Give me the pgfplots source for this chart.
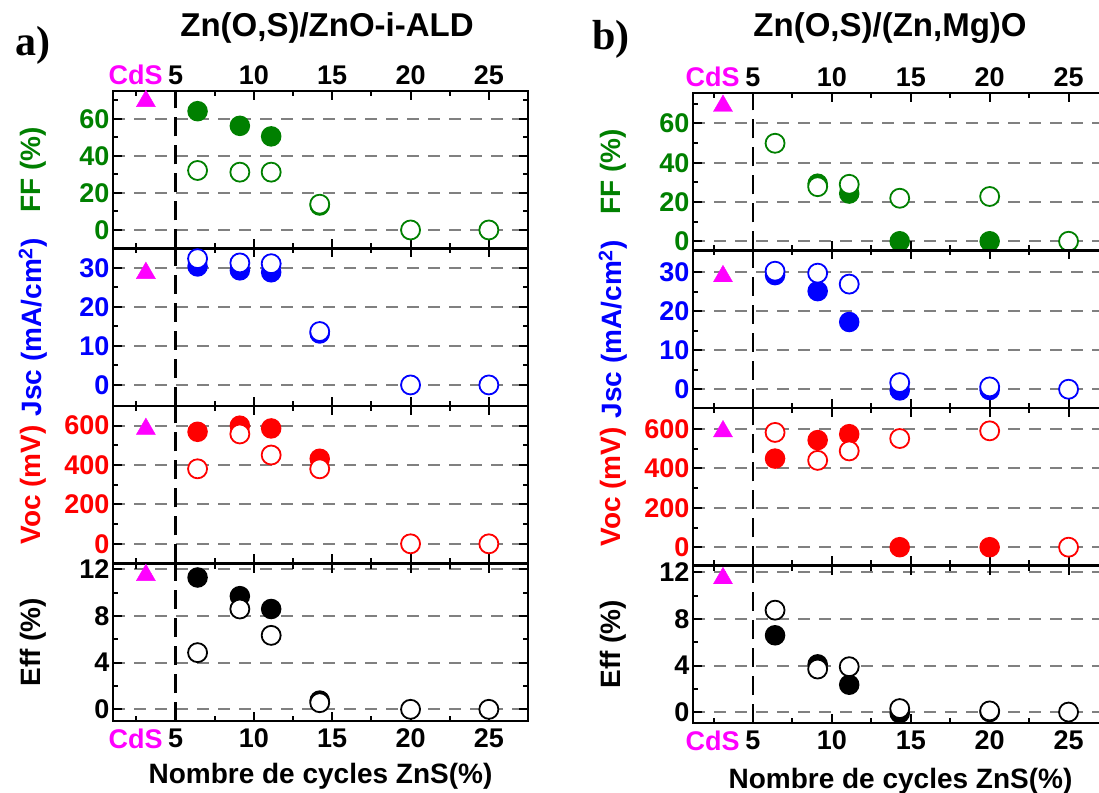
\documentclass[border=0pt]{standalone}
\usepackage{fontspec}
\setmainfont{Liberation Sans}
\newfontfamily\serifb{Liberation Serif}
\usepackage{pgfplots}
\pgfplotsset{compat=1.18}

\definecolor{cgreen}{RGB}{0,128,0}
\definecolor{cblue}{RGB}{0,0,255}
\definecolor{cred}{RGB}{255,0,0}
\definecolor{cmag}{RGB}{255,0,255}
\definecolor{cgrid}{RGB}{128,128,128}

\pgfplotsset{
  panel/.style={
    scale only axis, width=415pt, height=157.5pt,
    axis line style={line width=2.5pt},
    every tick/.style={black, line width=2pt},
    major tick length=9pt, minor tick length=5pt,
    tick align=inside,
    xtick={5,10,15,20,25}, minor xtick={2.5,7.5,12.5,17.5,22.5},
    xticklabels={},
    ymajorgrids,
    major grid style={cgrid, line width=2pt, dash pattern=on 12pt off 9pt},
    clip=false,
    tick label style={font=\fontsize{27}{30}\selectfont\bfseries},
    ylabel style={at={(axis description cs:-0.193,0.5)}, anchor=center,
      font=\fontsize{28}{30}\selectfont\bfseries},
    xlabel style={at={(axis description cs:0.5,0)}, anchor=base, yshift=-62pt,
      font=\fontsize{28}{30}\selectfont\bfseries},
    extra x tick style={grid=none, major tick length=0pt},
  },
  toplab/.style={xticklabel pos=upper, xticklabels={5,10,15,20,25},
    extra x ticks={2.45}, extra x tick labels={\textcolor{cmag}{CdS}},
    xticklabel style={yshift=3pt}},
  botlab/.style={xticklabel pos=lower, xticklabels={5,10,15,20,25},
    extra x ticks={2.45}, extra x tick labels={\textcolor{cmag}{CdS}},
    xticklabel style={yshift=-4pt}, xlabel={Nombre de cycles ZnS(\%)}},
  ffax/.style={ytick={0,20,40,60}, yticklabels={0,20,40,60}, minor ytick={10,30,50,70},
    yticklabel style={color=cgreen}, ylabel={FF (\%)}, ylabel style={color=cgreen}},
  jscax/.style={ytick={0,10,20,30}, yticklabels={0,10,20,30}, minor ytick={5,15,25},
    yticklabel style={color=cblue}, ylabel={Jsc (mA/cm\textsuperscript{2})}, ylabel style={color=cblue}},
  vocax/.style={ytick={0,200,400,600}, yticklabels={0,200,400,600}, minor ytick={100,300,500},
    yticklabel style={color=cred}, ylabel={Voc (mV)}, ylabel style={color=cred}},
  effax/.style={ytick={0,4,8,12}, yticklabels={0,4,8,12}, minor ytick={2,6,10},
    yticklabel style={color=black}, ylabel={Eff (\%)}, ylabel style={color=black}},
  tri/.style={only marks, mark=triangle*, mark size=11pt, color=cmag},
  fil/.style={only marks, mark=*, mark size=9.5pt, color=#1, mark options={line width=1.5pt, fill=#1}},
  opn/.style={only marks, mark=*, mark size=9.5pt, color=#1, mark options={line width=1.8pt, fill=white}},
}
\tikzset{vline/.style={black, line width=2.3pt, dash pattern=on 19pt off 9pt}}

\begin{document}
\begin{tikzpicture}[x=1pt,y=1pt]
% ================= LEFT COLUMN =================
\begin{axis}[panel, toplab, ffax, at={(113pt,543.5pt)}, xmin=1, xmax=27.5, ymin=-10, ymax=75]
\draw[vline] (axis cs:5,-10) -- (axis cs:5,75);
\addplot[tri] coordinates {(3.1,69.5)};
\addplot[fil=cgreen] coordinates {(6.4,64.1) (9.1,56.2) (11.1,50.5) (14.2,13.2)};
\addplot[opn=cgreen] coordinates {(6.4,32.1) (9.1,31.2) (11.1,31.2) (14.2,13.9) (20,0) (25,0)};
\end{axis}
\begin{axis}[panel, jscax, at={(113pt,386pt)}, xmin=1, xmax=27.5, ymin=-5.4, ymax=35]
\draw[vline] (axis cs:5,-5.4) -- (axis cs:5,35);
\addplot[tri] coordinates {(3.1,28.7)};
\addplot[fil=cblue] coordinates {(6.4,30.4) (9.1,29.4) (11.1,28.9) (14.2,13.2)};
\addplot[opn=cblue] coordinates {(6.4,32.4) (9.1,31.3) (11.1,31.1) (14.2,13.7) (20,0) (25,0)};
\end{axis}
\begin{axis}[panel, vocax, at={(113pt,228.5pt)}, xmin=1, xmax=27.5, ymin=-100, ymax=700]
\draw[vline] (axis cs:5,-100) -- (axis cs:5,700);
\addplot[tri] coordinates {(3.1,583)};
\addplot[fil=cred] coordinates {(6.4,569) (9.1,600) (11.1,586) (14.2,432)};
\addplot[opn=cred] coordinates {(6.4,381) (9.1,558) (11.1,451) (14.2,381) (20,0) (25,0)};
\end{axis}
\begin{axis}[panel, botlab, effax, at={(113pt,71pt)}, xmin=1, xmax=27.5, ymin=-1, ymax=12.5]
\draw[vline] (axis cs:5,-1) -- (axis cs:5,12.5);
\addplot[tri] coordinates {(3.1,11.5)};
\addplot[fil=black] coordinates {(6.4,11.3) (9.1,9.7) (11.1,8.6) (14.2,0.75)};
\addplot[opn=black] coordinates {(6.4,4.86) (9.1,8.6) (11.1,6.34) (14.2,0.57) (20,0) (25,0)};
\end{axis}
% ================= RIGHT COLUMN =================
\begin{axis}[panel, toplab, ffax, at={(693pt,541.5pt)}, xmin=1.2, xmax=27.5, ymin=-4.7, ymax=75.5]
\draw[vline] (axis cs:5,-4.7) -- (axis cs:5,75.5);
\addplot[tri] coordinates {(3.1,68.9)};
\addplot[fil=cgreen] coordinates {(9.1,29.3) (11.1,24.3) (14.3,0) (20,0)};
\addplot[opn=cgreen] coordinates {(6.4,49.9) (9.1,27.8) (11.1,29.0) (14.3,21.9) (20,22.8) (25,0)};
\end{axis}
\begin{axis}[panel, jscax, at={(693pt,384pt)}, xmin=1.2, xmax=27.5, ymin=-4.8, ymax=35.5]
\draw[vline] (axis cs:5,-4.8) -- (axis cs:5,35.5);
\addplot[tri] coordinates {(3.1,28.9)};
\addplot[fil=cblue] coordinates {(6.4,29.2) (9.1,25.1) (11.1,17.2) (14.3,-0.3) (20,-0.2)};
\addplot[opn=cblue] coordinates {(6.4,30.2) (9.1,29.7) (11.1,26.9) (14.3,1.7) (20,0.6) (25,0)};
\end{axis}
\begin{axis}[panel, vocax, at={(693pt,226.5pt)}, xmin=1.2, xmax=27.5, ymin=-93, ymax=707]
\draw[vline] (axis cs:5,-93) -- (axis cs:5,707);
\addplot[tri] coordinates {(3.1,588)};
\addplot[fil=cred] coordinates {(6.4,450) (9.1,544) (11.1,574) (14.3,0) (20,0)};
\addplot[opn=cred] coordinates {(6.4,583) (9.1,441) (11.1,489) (14.3,552) (20,591) (25,0)};
\end{axis}
\begin{axis}[panel, botlab, effax, at={(693pt,69pt)}, xmin=1.2, xmax=27.5, ymin=-0.94, ymax=12.6,
  xlabel style={yshift=-3pt}]
\draw[vline] (axis cs:5,-0.94) -- (axis cs:5,12.6);
\addplot[tri] coordinates {(3.1,11.5)};
\addplot[fil=black] coordinates {(6.4,6.6) (9.1,4.1) (11.1,2.35) (14.3,-0.1) (20,0)};
\addplot[opn=black] coordinates {(6.4,8.76) (9.1,3.7) (11.1,3.9) (14.3,0.3) (20,0.1) (25,0)};
\end{axis}
% titles and panel letters
\node[font=\fontsize{33}{36}\selectfont\bfseries] at (327pt,764pt) {Zn(O,S)/ZnO-i-ALD};
\node[font=\fontsize{33}{36}\selectfont\bfseries] at (890pt,764pt) {Zn(O,S)/(Zn,Mg)O};
\node[font=\fontsize{42}{44}\selectfont\serifb\bfseries, anchor=base west, inner sep=0pt] at (15pt,736pt) {a)};
\node[font=\fontsize{42}{44}\selectfont\serifb\bfseries, anchor=base west, inner sep=0pt] at (592pt,742pt) {b)};
\pgfresetboundingbox
\path[use as bounding box] (0pt,0pt) rectangle (1099pt,792pt);
\end{tikzpicture}
\end{document}
